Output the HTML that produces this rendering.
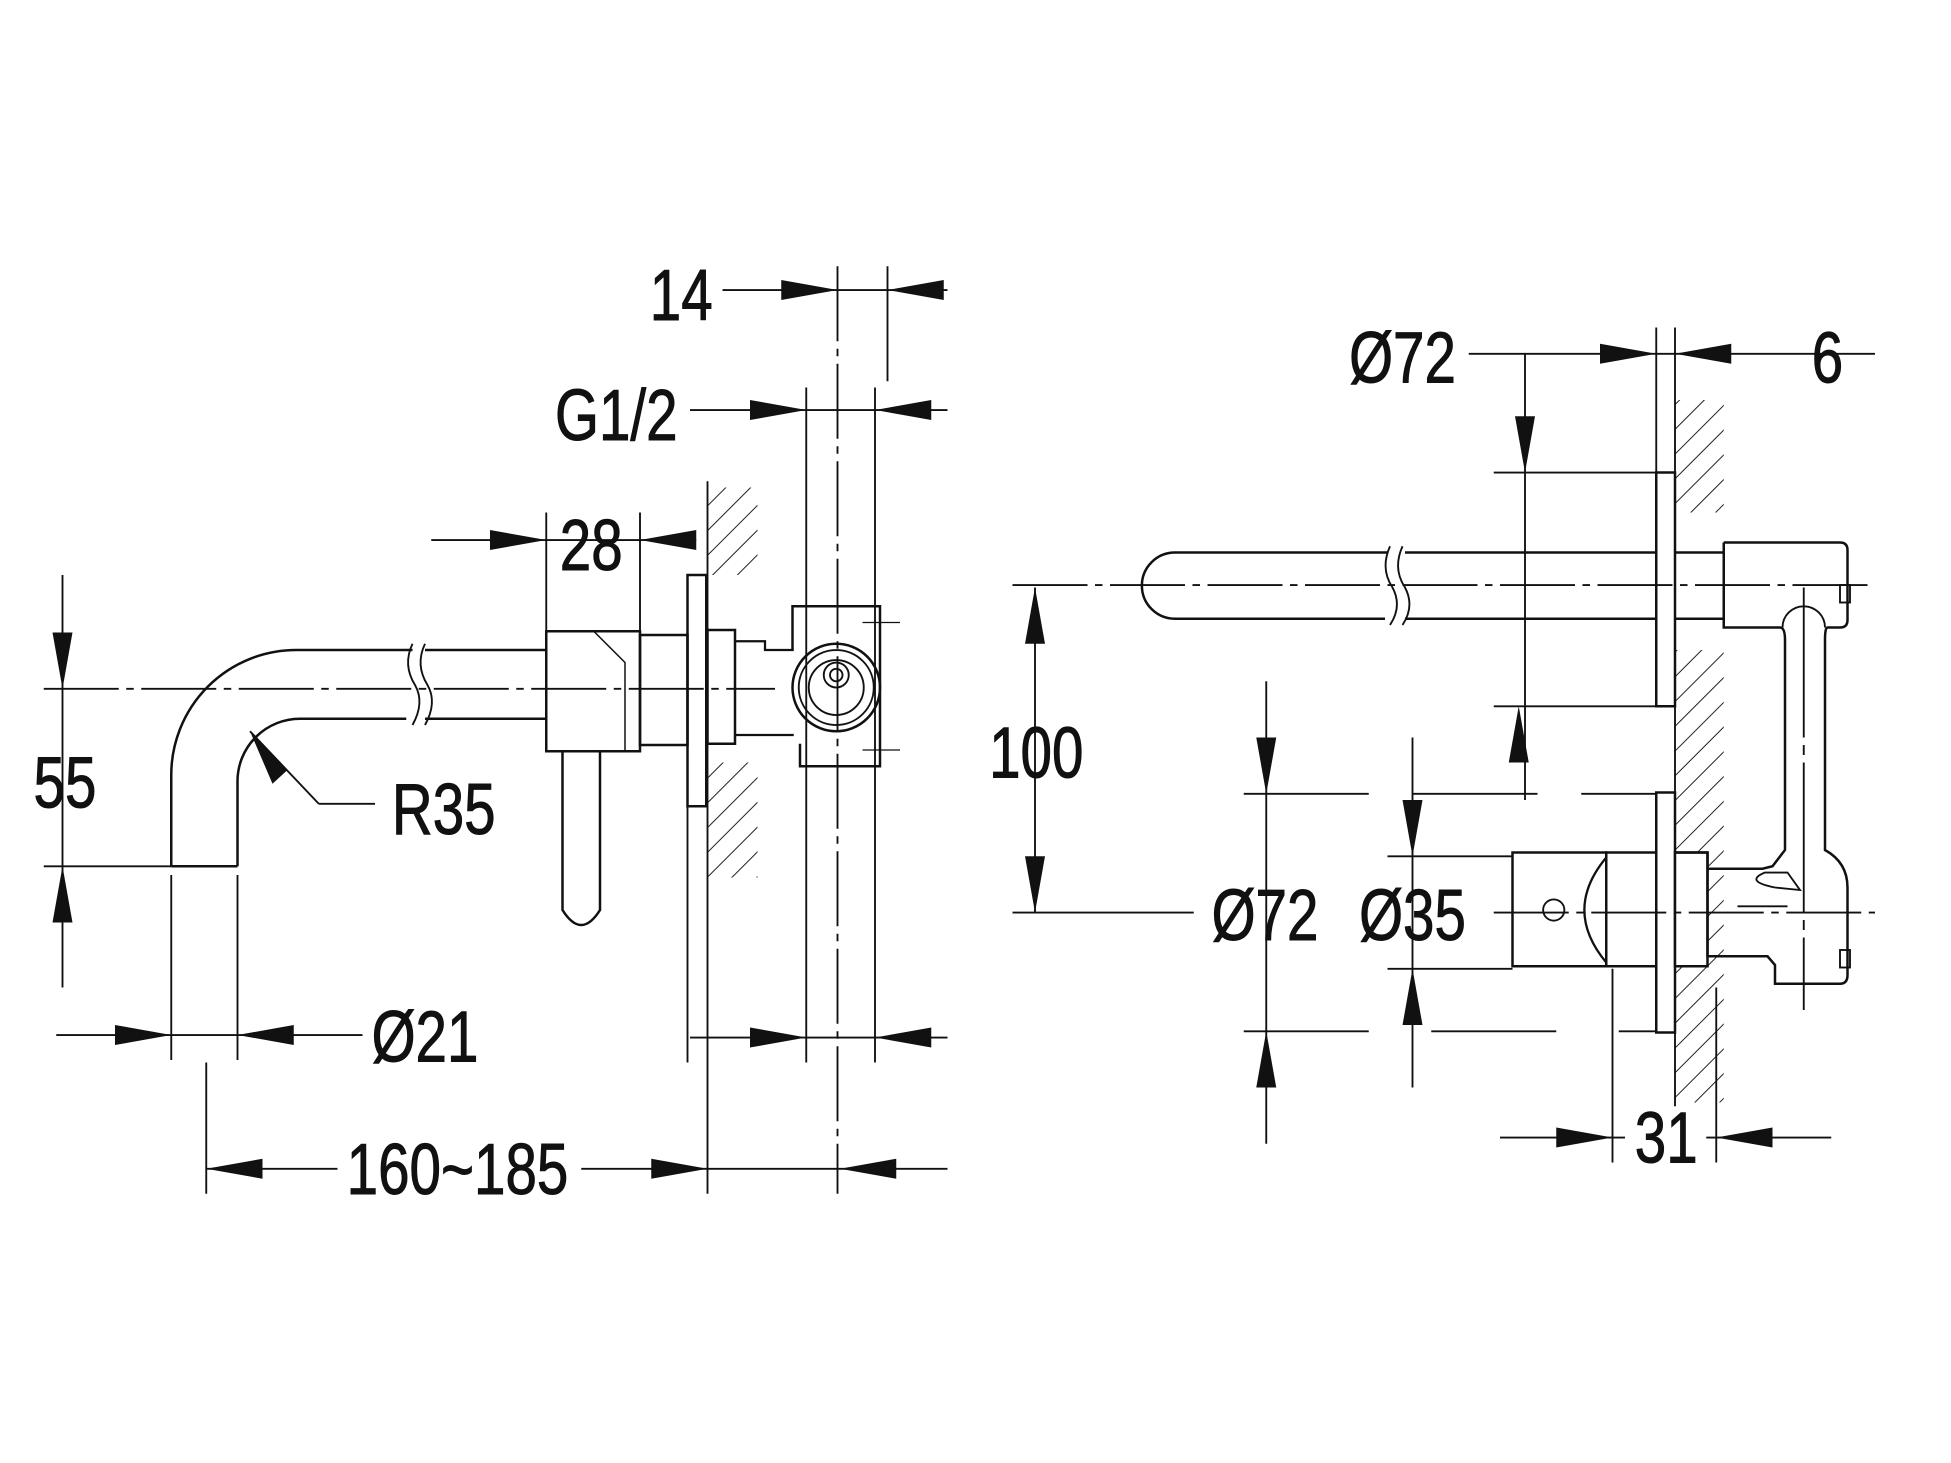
<!DOCTYPE html>
<html><head><meta charset="utf-8"><style>
html,body{margin:0;padding:0;background:#fff;}
svg{display:block;}
text{font-family:"Liberation Sans",sans-serif;font-size:58px;fill:#111;text-anchor:middle;stroke:#111;stroke-width:0.8;}
</style></head><body>
<svg width="1951" height="1463" viewBox="0 0 1560.8 1170.4" xmlns="http://www.w3.org/2000/svg">
<defs>
<pattern id="h" width="14" height="14" patternUnits="userSpaceOnUse" patternTransform="rotate(45)">
<line x1="0" y1="0" x2="0" y2="14" stroke="#222" stroke-width="1.6"/>
</pattern>
</defs>
<g fill="none" stroke="#111" stroke-width="1.5">
<!-- ===== LEFT DRAWING ===== -->
<rect x="566" y="390" width="40" height="70" fill="url(#h)" stroke="none"/>
<rect x="566" y="610" width="40" height="92" fill="url(#h)" stroke="none"/>
<line x1="566" y1="385" x2="566" y2="955"/>
<line x1="670" y1="213" x2="670" y2="955" stroke-dasharray="60,6,6,6"/>
<line x1="710" y1="213" x2="710" y2="305"/>
<line x1="645" y1="310" x2="645" y2="850"/>
<line x1="700" y1="310" x2="700" y2="850"/>
<line x1="550" y1="460" x2="550" y2="850"/>
<line x1="578" y1="232" x2="758" y2="232"/>
<line x1="552" y1="328" x2="758" y2="328"/>
<line x1="345" y1="432" x2="557" y2="432"/>
<line x1="437" y1="410" x2="437" y2="505"/>
<line x1="512" y1="410" x2="512" y2="505"/>
<line x1="50" y1="460" x2="50" y2="790"/>
<line x1="35" y1="551" x2="620" y2="551" stroke-dasharray="60,6,6,6"/>
<line x1="35" y1="693" x2="137" y2="693"/>
<path d="M137 693 L137 620 A100 100 0 0 1 237 520 L330 520" stroke-width="2"/>
<path d="M190 693 L190 625 A50 50 0 0 1 240 575 L325 575" stroke-width="2"/>
<line x1="137" y1="693" x2="190" y2="693" stroke-width="2"/>
<path d="M330 515 Q322 532 332 548 Q340 562 330 580"/>
<path d="M340 515 Q332 532 342 548 Q350 562 340 580"/>
<path d="M340 520 L437 520 M340 575 L437 575" stroke-width="2"/>
<rect x="437" y="505" width="75" height="96" stroke-width="2"/>
<path d="M475 505 L500 530 L500 601" stroke-width="1.2"/>
<path d="M450 601 L450 728 Q465 752 480 728 L480 601" stroke-width="2"/>
<rect x="512" y="508" width="38" height="88" stroke-width="2"/>
<rect x="550" y="460" width="15" height="185" stroke-width="2"/>
<rect x="566" y="504" width="22" height="91" stroke-width="2"/>
<path d="M588 513 L612 513 L612 520 L635 520 M588 588 L635 588" stroke-width="1.8"/>
<path d="M634 520 L634 485 L704 485 L704 613 L640 613 L640 595" stroke-width="2"/>
<circle cx="669" cy="550" r="35" stroke-width="2"/>
<circle cx="669" cy="550" r="30"/>
<circle cx="669" cy="550" r="22"/>
<circle cx="669" cy="540" r="10"/>
<circle cx="669" cy="540" r="5"/>
<line x1="690" y1="498" x2="720" y2="498" stroke-width="1"/>
<line x1="690" y1="600" x2="720" y2="600" stroke-width="1"/>
<line x1="200" y1="585" x2="255" y2="643"/>
<line x1="255" y1="643" x2="300" y2="643"/>
<line x1="45" y1="828" x2="290" y2="828"/>
<line x1="137" y1="700" x2="137" y2="848"/>
<line x1="190" y1="700" x2="190" y2="848"/>
<line x1="552" y1="830" x2="758" y2="830"/>
<line x1="165" y1="935" x2="270" y2="935"/>
<line x1="465" y1="935" x2="758" y2="935"/>
<line x1="165" y1="850" x2="165" y2="955"/>

<!-- ===== RIGHT DRAWING ===== -->
<rect x="1340" y="320" width="39" height="90" fill="url(#h)" stroke="none"/>
<rect x="1340" y="520" width="39" height="362" fill="url(#h)" stroke="none"/>
<line x1="1340" y1="262" x2="1340" y2="885"/>
<line x1="1325" y1="262" x2="1325" y2="378"/>
<rect x="1325" y="378" width="15" height="187" stroke-width="2" fill="#fff"/>
<rect x="1325" y="634" width="15" height="192" stroke-width="2" fill="#fff"/>
<path d="M1110 442 L940 442 A26.5 26.5 0 0 0 940 495 L1108 495" stroke-width="2"/>
<path d="M1112 437 Q1104 455 1114 470 Q1122 485 1112 500 M1122 437 Q1114 455 1124 470 Q1132 485 1122 500"/>
<path d="M1124 442 L1325 442 M1124 495 L1325 495 M1340 442 L1379 442 M1340 495 L1379 495" stroke-width="2"/>
<line x1="810" y1="468" x2="1500" y2="468" stroke-dasharray="60,6,6,6"/>
<rect x="1340" y="682" width="26" height="91" fill="#fff" stroke="none"/>
<path d="M1379 434 L1472 434 Q1478 434 1478 440 L1478 496 Q1478 502 1472 502 L1462 502 Q1460 502 1460 512 L1460 680 Q1478 690 1478 710 L1478 780 Q1478 787 1472 787 L1420 787 L1420 772 L1414 765 L1366 765 L1366 682 L1340 682 M1379 434 L1379 502 L1424 502 Q1428 502 1428 512 L1428 680 L1418 693 L1410 695 L1366 695" stroke-width="2"/>
<path d="M1426 502 A17 17 0 0 1 1460 502"/>
<line x1="1443" y1="470" x2="1443" y2="808" stroke-dasharray="120,6,8,6"/>
<rect x="1472" y="468" width="8" height="14"/>
<rect x="1472" y="760" width="8" height="14"/>
<path d="M1412 698 Q1395 705 1420 710 L1440 712 L1430 698 Z"/>
<rect x="1210" y="682" width="75" height="91" stroke-width="2"/>
<path d="M1285 686 Q1250 728 1285 770" stroke-width="1.8"/>
<circle cx="1243" cy="728" r="8.5"/>
<rect x="1285" y="682" width="40" height="91" stroke-width="2"/>
<rect x="1340" y="682" width="26" height="91" stroke-width="2"/>
<line x1="1390" y1="725" x2="1430" y2="725"/>
<line x1="1195" y1="730" x2="1500" y2="730" stroke-dasharray="60,6,6,6"/>
<line x1="1175" y1="283" x2="1500" y2="283"/>
<line x1="1220" y1="283" x2="1220" y2="640"/>
<line x1="1195" y1="378" x2="1325" y2="378"/>
<line x1="1195" y1="565" x2="1325" y2="565"/>
<line x1="828" y1="470" x2="828" y2="730"/>
<line x1="810" y1="730" x2="955" y2="730"/>
<line x1="1013" y1="545" x2="1013" y2="915"/>
<line x1="995" y1="635" x2="1325" y2="635" stroke-dasharray="100,35"/>
<line x1="995" y1="825" x2="1325" y2="825" stroke-dasharray="100,50"/>
<line x1="1130" y1="590" x2="1130" y2="870"/>
<line x1="1110" y1="685" x2="1210" y2="685"/>
<line x1="1110" y1="775" x2="1210" y2="775"/>
<line x1="1200" y1="910" x2="1300" y2="910"/>
<line x1="1365" y1="910" x2="1465" y2="910"/>
<line x1="1290" y1="775" x2="1290" y2="930"/>
<line x1="1373" y1="790" x2="1373" y2="930"/>
</g>
<g fill="#111" stroke="none">
<polygon points="670,232 625,224 625,240"/>
<polygon points="710,232 755,224 755,240"/>
<polygon points="645,328 600,320 600,336"/>
<polygon points="700,328 745,320 745,336"/>
<polygon points="437,432 392,424 392,440"/>
<polygon points="512,432 557,424 557,440"/>
<polygon points="50,551 42,506 58,506"/>
<polygon points="50,693 42,738 58,738"/>
<polygon points="200,585 218,627 230,616"/>
<polygon points="137,828 92,820 92,836"/>
<polygon points="190,828 235,820 235,836"/>
<polygon points="645,830 600,822 600,838"/>
<polygon points="700,830 745,822 745,838"/>
<polygon points="165,935 210,927 210,943"/>
<polygon points="566,935 521,927 521,943"/>
<polygon points="672,935 717,927 717,943"/>
<polygon points="1325,283 1280,275 1280,291"/>
<polygon points="1340,283 1385,275 1385,291"/>
<polygon points="1220,378 1212,333 1228,333"/>
<polygon points="1215,565 1207,610 1223,610"/>
<polygon points="828,470 820,515 836,515"/>
<polygon points="828,730 820,685 836,685"/>
<polygon points="1013,635 1005,590 1021,590"/>
<polygon points="1013,825 1005,870 1021,870"/>
<polygon points="1130,685 1122,640 1138,640"/>
<polygon points="1130,775 1122,820 1138,820"/>
<polygon points="1290,910 1245,902 1245,918"/>
<polygon points="1373,910 1418,902 1418,918"/>
</g>
<text transform="translate(545,256) scale(0.78,1)">14</text>
<text transform="translate(493,352) scale(0.78,1)">G1/2</text>
<text transform="translate(473,456) scale(0.78,1)">28</text>
<text transform="translate(52,646) scale(0.78,1)">55</text>
<text transform="translate(355,667) scale(0.78,1)">R35</text>
<text transform="translate(340,849) scale(0.78,1)">Ø21</text>
<text transform="translate(366,955) scale(0.78,1)">160~185</text>
<text transform="translate(1122,306) scale(0.78,1)">Ø72</text>
<text transform="translate(1462,306) scale(0.78,1)">6</text>
<text transform="translate(829,622) scale(0.78,1)">100</text>
<text transform="translate(1012,752) scale(0.78,1)">Ø72</text>
<text transform="translate(1130,752) scale(0.78,1)">Ø35</text>
<text transform="translate(1333,930) scale(0.78,1)">31</text>
</svg>
</body></html>
